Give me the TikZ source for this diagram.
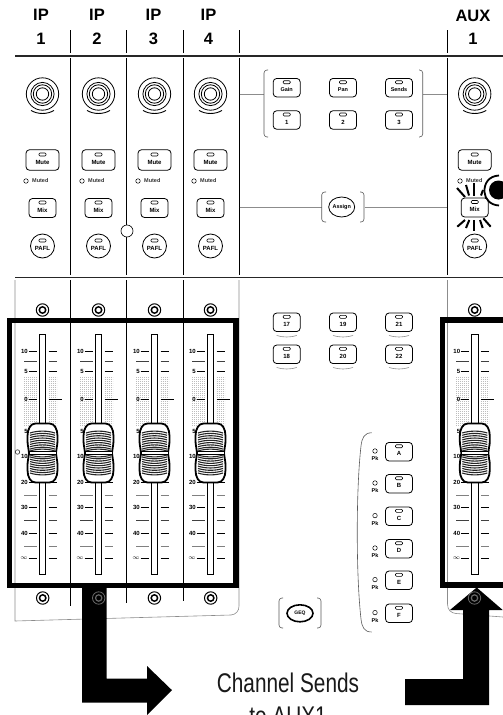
\documentclass[tikz,border=0pt]{standalone}
\usepackage{fontspec}
\setmainfont{Liberation Sans}
\usepackage{graphicx}
\usepackage{xcolor}
\usepackage{tikz}
\usetikzlibrary{shapes.geometric,positioning,calc}
\definecolor{panelgrey}{HTML}{8C8C8C}
\definecolor{stipple}{HTML}{BDBDBD}
\tikzset{
  heading/.style={font=\fontsize{16.5}{18}\bfseries\selectfont, inner sep=0pt},
  rule/.style={line width=1.7pt, draw=black!85},
  divider/.style={line width=.8pt, draw=black},
  panelline/.style={line width=.6pt, draw=panelgrey},
  bracketline/.style={line width=.6pt, draw=black!65, rounded corners=3pt},
  keyled/.style={rectangle, rounded corners=1pt, draw=black, line width=.6pt, minimum width=7pt, minimum height=3pt, inner sep=0pt},
  keytext/.style={font=\fontsize{6}{6}\bfseries\selectfont, inner sep=0pt},
  mutekey/.style={rectangle, rounded corners=3.5pt, draw=black, line width=.8pt, fill=white, minimum width=33pt, minimum height=20.5pt, inner sep=0pt},
  mixkey/.style={mutekey, minimum width=27pt, minimum height=19pt},
  padkey/.style={mutekey, minimum width=27pt, minimum height=18.5pt},
  paflkey/.style={circle, draw=black, line width=.8pt, fill=white, minimum size=24pt, inner sep=0pt},
  ringkey/.style={ellipse, draw=black, line width=.8pt, fill=white, minimum width=26pt, minimum height=20pt, inner sep=0pt},
  smalltext/.style={font=\fontsize{5.5}{6}\bfseries\selectfont, text=black!80, inner sep=0pt},
  scaletext/.style={font=\fontsize{6}{6}\bfseries\selectfont, inner sep=0pt, anchor=east},
  tick/.style={line width=.7pt, draw=black},
  minortick/.style={line width=.7pt, draw=black!50},
  frame/.style={line width=5.6pt, draw=black},
  bigarrow/.style={fill=black, draw=none},
  caption/.style={font=\fontsize{27}{29}\selectfont, text=black!90, inner sep=0pt},
}
\newcommand{\panelkey}[5]{%
  \node[#4] (#1) at (#2,#3) {};
  \node[keyled] (#1led) at ([yshift=5.5pt]#1.center) {};
  \node[keytext] (#1txt) at ([yshift=-2pt]#1.center) {#5};
}
\newcommand{\channelknob}[2]{%
  \begin{scope}[shift={(#1,#2)}, line width=.8pt]
    \draw (0,0) circle (6.2);
    \draw (0,0) circle (9.2);
    \draw (0,0) circle (11.6);
    \draw (0,0) circle (16.2);
    \draw[line width=.9pt] (-11.5,16.4) .. controls (-5,20.5) and (5,20.5) .. (11.5,16.4);
  \end{scope}
}
\newcommand{\screw}[4]{%
  \begin{scope}[shift={(#1,#2)}, draw=#3]
    \draw[line width=#4] (0,0) circle (6.2);
    \draw[line width=1.5*#4] (0,0) circle (3.2);
  \end{scope}
}
\newcommand{\faderstrip}[2]{%
  \begin{scope}[shift={(#1,0)}]
    \foreach \rowy in {377,379,...,425} {
      \draw[stipple, line width=.8pt, dash pattern=on .8pt off 1.2pt] (-18.5,\rowy) -- (-6,\rowy);
      \draw[stipple, line width=.8pt, dash pattern=on .8pt off 1.2pt] (6,\rowy) -- (14,\rowy);
    }
    \foreach \ticky in {351.7,371,431.7,456.7,507.7,533,558} {
      \draw[tick] (-14,\ticky) -- (-6,\ticky);
      \draw[tick] (6,\ticky) -- (14,\ticky);
    }
    \foreach \ticky in {361,520} {
      \draw[minortick, draw=black!75] (-18.5,\ticky) -- (-6,\ticky);
      \draw[minortick, draw=black!75] (6,\ticky) -- (14,\ticky);
    }
    \foreach \ticky in {495,546} {
      \draw[minortick] (-18.5,\ticky) -- (-6,\ticky);
      \draw[minortick] (6,\ticky) -- (14,\ticky);
    }
    \draw[line width=1pt] (-14,399) -- (-6,399);
    \draw[line width=1pt] (6,399) -- (19.5,399);
    \draw[line width=1pt] (-14,482.3) -- (14,482.3);
    \draw[line width=1pt, fill=white] (-3.4,334) rectangle (3.4,574);
    \draw[line width=1.8pt, fill=white] (-7,423.5) .. controls (-12,423.5) and (-15,429) .. (-15,436)
      -- (-15,441) .. controls (-15,446) and (-13.5,449) .. (-13.5,453)
      .. controls (-13.5,457) and (-15,460) .. (-15,465)
      -- (-15,470) .. controls (-15,477) and (-12,482.5) .. (-7,482.5)
      -- (7,482.5) .. controls (12,482.5) and (15,477) .. (15,470)
      -- (15,465) .. controls (15,460) and (13.5,457) .. (13.5,453)
      .. controls (13.5,449) and (15,446) .. (15,441)
      -- (15,436) .. controls (15,429) and (12,423.5) .. (7,423.5) -- cycle;
    \foreach \riby in {431.5,433.8,436.1,438.4,440.7,443,445.3,447.6,449.5} {
      \draw[line width=1.1pt, draw=black!85] (-12.5,\riby+1.5) .. controls (-5,\riby-1) and (5,\riby-1) .. (12.5,\riby+1.5);
    }
    \foreach \riby in {456.5,458.4,460.7,463,465.3,467.6,469.9,472.2,474.5} {
      \draw[line width=1.1pt, draw=black!85] (-12.5,\riby-1.5) .. controls (-5,\riby+1) and (5,\riby+1) .. (12.5,\riby-1.5);
    }
    \draw[fill=white, line width=1pt] (-13.5,451.2) rectangle (13.5,454.6);
    \node[scaletext] (ten#2) at (-14.5,351.7) {10};
    \node[scaletext] (five#2) at (-14.5,371) {5};
    \node[scaletext] (zero#2) at (-14.5,399) {0};
    \node[scaletext] (minusfive#2) at (-14.5,431.7) {5};
    \node[scaletext] (minusten#2) at (-14.5,456.7) {10};
    \node[scaletext] (twenty#2) at (-14.5,482) {20};
    \node[scaletext] (thirty#2) at (-14.5,507.7) {30};
    \node[scaletext] (forty#2) at (-14.5,533) {40};
    \node[scaletext] (inf#2) at (-14.5,558) {$\infty$};
  \end{scope}
}

\begin{document}
\begin{tikzpicture}[x=1pt, y=-1pt]
  \useasboundingbox (0,0) rectangle (503,715);
  \clip (0,0) rectangle (503,715);

  \node[heading] (ip1) at (41,15) {IP};
  \node[heading] (ip2) at (97,15) {IP};
  \node[heading] (ip3) at (153.5,15) {IP};
  \node[heading] (ip4) at (208.5,15) {IP};
  \node[heading] (aux) at (473,15.5) {AUX};
  \node[heading] (num1) at (41,39) {1};
  \node[heading] (num2) at (97,39) {2};
  \node[heading] (num3) at (153.5,39) {3};
  \node[heading] (num4) at (208.5,39) {4};
  \node[heading] (numaux) at (473,38.5) {1};

  \draw[rule] (15,56) -- (503,56);
  \draw[rule] (15,277.5) -- (503,277.5);
  \foreach \dx in {70.5,126.5,183,239,447.5} {
    \draw[divider] (\dx,30) -- (\dx,53);
    \draw[divider] (\dx,58) -- (\dx,275);
  }
  \draw[divider] (70.5,280) -- (70.5,605.5);
  \draw[divider] (126.5,280) -- (126.5,602.5);
  \draw[divider] (183,280) -- (183,600.5);
  \draw[panelline] (15,280) -- (15,621) -- (231,615) .. controls (236,614.5) and (239,611) .. (239,606) -- (239,280);
  \draw[panelline] (447.5,280) -- (447.5,604) .. controls (447.5,610) and (451,613) .. (456,613.5) -- (503,617);
  \node[circle, draw=black, fill=white, line width=.6pt, minimum size=12pt, inner sep=0pt] (hole) at (127,231) {};

  \draw[panelline] (239.5,94) -- (264,94);
  \draw[panelline] (423,94) -- (447,94);
  \draw[panelline] (239.5,207) -- (321.5,207);
  \draw[panelline] (364.5,207) -- (447,207);

  \foreach \cx/\cn in {42.5/a,98.5/b,154.5/c,210.5/d} {
    \channelknob{\cx}{94}
    \panelkey{mute\cn}{\cx}{160}{mutekey}{Mute}
    \node[circle, draw=black, line width=.5pt, minimum size=4.5pt, inner sep=0pt] (led\cn) at ({\cx-16.5},181) {};
    \node[smalltext, right=3.5pt of led\cn] (muted\cn) {Muted};
    \panelkey{mix\cn}{\cx}{208}{mixkey}{Mix}
    \panelkey{pafl\cn}{\cx}{246}{paflkey}{PAFL}
  }
  \channelknob{474.7}{94}
  \panelkey{muteaux}{474.7}{160}{mutekey}{Mute}
  \node[circle, draw=black, line width=.5pt, minimum size=4.5pt, inner sep=0pt] (ledaux) at (460,181) {};
  \node[smalltext, right=3.5pt of ledaux] (mutedaux) {Muted};
  \panelkey{pafaux}{474.7}{246}{paflkey}{PAFL}
  \panelkey{mixaux}{474.7}{207.5}{mixkey}{Mix}
  \draw[line width=2pt] (457,188) -- (465,197);
  \draw[line width=2pt] (466,185) -- (469,195.5);
  \draw[line width=2pt] (474.3,183) -- (474.3,195.5);
  \draw[line width=2pt] (483,190) -- (481,195.5);
  \draw[line width=2pt] (465,220) -- (457.3,226.7);
  \draw[line width=2pt] (469.3,220) -- (466,228);
  \draw[line width=2pt] (474.3,220) -- (474.3,230.7);
  \draw[line width=2pt] (480,220) -- (482.7,228);
  \draw[line width=2pt] (483.3,218.3) -- (490.7,226.7);
  \fill (498.5,190) circle (9.5);
  \draw[line width=1.8pt] (499,175.5) .. controls (489,176) and (484,183) .. (484.5,192) .. controls (485,199) and (490,205) .. (499,205.5);

  \draw[bracketline] (268,70) -- (264,70) -- (264,137) -- (268,137);
  \draw[bracketline] (419,70) -- (422.7,70) -- (422.7,137) -- (419,137);
  \panelkey{gain}{286.7}{87.7}{padkey}{\fontsize{5.5}{6}\selectfont Gain}
  \panelkey{pan}{343}{87.7}{padkey}{\fontsize{5.5}{6}\selectfont Pan}
  \panelkey{sends}{399}{87.7}{padkey}{\fontsize{5.5}{6}\selectfont Sends}
  \panelkey{one}{286.7}{120}{padkey}{1}
  \panelkey{two}{343}{120}{padkey}{2}
  \panelkey{three}{399}{120}{padkey}{3}

  \draw[bracketline] (326,192) -- (321.7,192) -- (321.7,222) -- (326,222);
  \draw[bracketline] (360,192) -- (364,192) -- (364,222) -- (360,222);
  \node[ringkey] (assign) at (341.7,207) {};
  \node[keytext, font=\fontsize{5.5}{6}\selectfont\bfseries] (assigntxt) at (assign.center) {Assign};

  \foreach \kx/\ka/\kb/\na/\nb in {286.7/17/18/p/q,343/19/20/r/s,399/21/22/t/u} {
    \panelkey{bank\na}{\kx}{322.3}{padkey}{\ka}
    \panelkey{bank\nb}{\kx}{354.3}{padkey}{\kb}
    \draw[panelline] ({\kx-10},335.5) .. controls ({\kx-4},337.5) and ({\kx+4},337.5) .. ({\kx+10},335.5);
    \draw[panelline] ({\kx-10},367.5) .. controls ({\kx-4},369.5) and ({\kx+4},369.5) .. ({\kx+10},367.5);
  }

  \draw[line width=.6pt, draw=black!65] (371.7,432.7) .. controls (364,433) and (362,438) .. (361,446)
    .. controls (356,490) and (356,575) .. (361,619) .. controls (362,627) and (364,632) .. (371.7,632);
  \foreach \ky/\kt in {451.7/A,483.7/B,516.3/C,548.7/D,580.3/E,613.3/F} {
    \panelkey{eq\kt}{399}{\ky}{padkey}{\kt}
    \node[circle, draw=black, line width=.5pt, minimum size=4.5pt, inner sep=0pt] (pk\kt) at (375,{\ky-.7}) {};
    \node[keytext, font=\fontsize{5.5}{6}\selectfont\bfseries, below=3pt of pk\kt] (pktxt\kt) {Pk};
  }

  \draw[bracketline] (283,598) -- (279,598) -- (279,628) -- (283,628);
  \draw[bracketline] (317,598) -- (321,598) -- (321,628) -- (317,628);
  \node[ringkey, line width=1.6pt, minimum width=26pt, minimum height=17pt] (geq) at (300,613.3) {};
  \node[keytext, font=\fontsize{5}{6}\selectfont\bfseries] (geqtxt) at (geq.center) {GEQ};

  \foreach \cx/\cn in {42.5/a,98.5/b,154.5/c,210.5/d} {
    \faderstrip{\cx}{\cn}
    \screw{\cx}{310}{black}{1pt}
  }
  \faderstrip{474.8}{aux}
  \screw{474.7}{310}{black}{1pt}
  \screw{42.7}{598}{black}{1pt}
  \screw{154.4}{598}{black}{1pt}
  \screw{210.7}{598}{black}{1pt}

  \node[circle, draw=black!80, line width=.6pt, minimum size=4.5pt, inner sep=0pt] (mark) at (17.5,452) {};

  \draw[frame] (9.3,320.5) rectangle (235.9,585.5);
  \draw[frame] (442.6,320) rectangle (510,584.8);

  \fill[bigarrow] (82,586) -- (106.5,586) -- (106.5,678.5) -- (147,678.5) -- (147,666) -- (172,690.2) -- (147,715) -- (147,702.5) -- (82,702.5) -- cycle;
  \fill[bigarrow] (405,679) -- (463,679) -- (463,610) -- (450,610) -- (476.7,587.5) -- (502.7,610) -- (489,610) -- (489,705) -- (405,705) -- cycle;
  \screw{98.7}{598}{black!60}{.8pt}
  \screw{474.5}{598}{black!60}{.8pt}

  \node[caption] (sends) at (288,683) {\scalebox{.77}[1]{Channel Sends}};
  \node[caption, below=14pt of sends] (toaux) {\scalebox{.77}[1]{to AUX1}};
\end{tikzpicture}
\end{document}
